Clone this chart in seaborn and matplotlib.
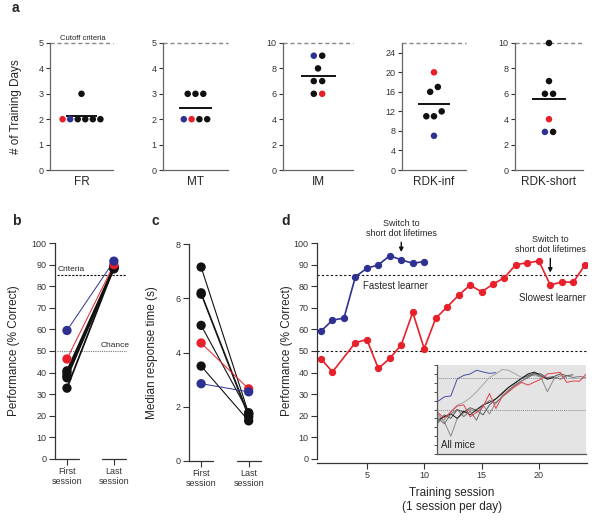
import numpy as np
import pandas as pd
import matplotlib.pyplot as plt
import seaborn as sns

# ---- panel a: training days needed per stage (7 mice) ----
stage_names = ['FR', 'MT', 'IM', 'RDK-inf', 'RDK-short']
stage_top = [5, 5, 10, 26, 10]
stage_ticks = [[0, 1, 2, 3, 4, 5], [0, 1, 2, 3, 4, 5], [0, 2, 4, 6, 8, 10],
               [0, 4, 8, 12, 16, 20, 24], [0, 2, 4, 6, 8, 10]]
fr_days = [2, 2, 2, 2, 2, 2, 3]
fr_mouse = ['slowest', 'fastest', 'other', 'other', 'other', 'other', 'other']
mt_days = [2, 2, 2, 2, 3, 3, 3]
mt_mouse = ['fastest', 'slowest', 'other', 'other', 'other', 'other', 'other']
im_days = [9, 9, 8, 7, 7, 6, 6]
im_mouse = ['fastest', 'other', 'other', 'other', 'other', 'other', 'slowest']
rdkinf_days = [20, 16, 17, 11, 11, 12, 7]
rdkinf_mouse = ['slowest', 'other', 'other', 'other', 'other', 'other', 'fastest']
rdkshort_days = [10, 7, 6, 6, 4, 3, 3]
rdkshort_mouse = ['other', 'other', 'other', 'other', 'slowest', 'fastest', 'other']

# ---- panel b/c: first vs last session ----
mouse_group = ['fastest', 'slowest', 'other', 'other', 'other', 'other', 'other']
perf_first = [59.5, 46.3, 40.8, 39.8, 38.5, 37.6, 32.8]
perf_last = [91.6, 90.0, 88.8, 88.3, 88.0, 89.2, 88.6]
rt_first = [2.85, 4.35, 7.15, 6.2, 6.15, 5.0, 3.5]
rt_last = [2.55, 2.66, 1.75, 1.7, 1.62, 1.78, 1.48]
session_labels = ['First\nsession', 'Last\nsession']

# ---- panel d: learning curves ----
fast_session = [1, 2, 3, 4, 5, 6, 7, 8, 9, 10]
fast_perf = [59.2, 64.3, 65.2, 84.4, 88.3, 89.9, 94.1, 92.2, 90.6, 91.4]
slow_session = [1, 2, 4, 5, 6, 7, 8, 9, 10, 11, 12, 13, 14, 15, 16, 17, 18, 19, 20, 21, 22, 23, 24]
slow_perf = [46.4, 40.3, 53.9, 55.3, 41.9, 46.6, 52.8, 67.9, 51.1, 65.1, 70.4, 75.8,
             80.5, 77.4, 80.9, 84.0, 90.0, 90.8, 91.7, 80.5, 82.0, 81.8, 89.7]
# other mice (inset only)
other_perf = [
    [42, 38, 48, 55, 58, 63, 70, 78, 86, 90, 95, 94, 90, 86, 89, 88, 87],
    [45, 36, 20, 40, 46, 50, 47, 55, 45, 58, 64, 70, 77, 82, 87, 90, 86, 70, 84, 88, 86],
    [35, 44, 40, 50, 47, 52, 49, 44, 55, 62, 69, 75, 80, 85, 88, 91, 90, 85, 87, 90, 88, 89],
    [38, 42, 45, 40, 48, 44, 50, 55, 58, 62, 68, 75, 80, 85, 90, 92, 88, 84, 86],
    [40, 34, 45, 50, 42, 48, 38, 55, 60, 57, 65, 72, 78, 82, 86, 90, 88, 86, 87, 84, 88, 86, 87, 86],
]
other_colors = ['#a6a6a6', '#8a8a8a', '#5a5a5a', '#1a1a1a', '#707070']

pal = {'fastest': '#2e3192', 'slowest': '#e8202a', 'other': '#111111'}
spine_col = '#333333'

sns.set_theme(style='ticks')
plt.rcParams['font.family'] = ['Liberation Sans', 'DejaVu Sans']
plt.rcParams['axes.edgecolor'] = spine_col
plt.rcParams['xtick.color'] = spine_col
plt.rcParams['ytick.color'] = spine_col
plt.rcParams['axes.linewidth'] = 0.9

fig = plt.figure(figsize=(6, 5.21), dpi=100)


def spread(values, binsize, step=0.12):
    bins = np.floor(np.array(values) / binsize)
    x = np.zeros(len(values))
    for b in np.unique(bins):
        idx = np.where(bins == b)[0]
        x[idx] = (np.arange(len(idx)) - (len(idx) - 1) / 2) * step
    return x


# ---------------- panel a ----------------
stage_days = [fr_days, mt_days, im_days, rdkinf_days, rdkshort_days]
stage_mice = [fr_mouse, mt_mouse, im_mouse, rdkinf_mouse, rdkshort_mouse]
a_left = [50, 163, 283, 402, 515]
a_right = [113, 228, 353, 466, 583]
for i, name in enumerate(stage_names):
    ax = fig.add_axes([a_left[i] / 600, 1 - 170 / 521, (a_right[i] - a_left[i]) / 600, 127 / 521])
    df = pd.DataFrame({'days': stage_days[i], 'mouse': stage_mice[i]})
    df['x'] = spread(df['days'], stage_top[i] / 12)
    sns.scatterplot(data=df, x='x', y='days', hue='mouse', palette=pal, s=22,
                    edgecolor='none', legend=False, ax=ax, zorder=3, clip_on=False)
    ax.hlines(df['days'].mean(), -0.25, 0.25, color='#111111', lw=1.4, zorder=2)
    ax.axhline(stage_top[i], color='#888888', lw=1, dashes=(3, 2), clip_on=False)
    ax.set_xlim(-0.5, 0.5)
    ax.set_ylim(0, stage_top[i])
    ax.set_yticks(stage_ticks[i])
    ax.set_xticks([])
    ax.tick_params(axis='y', labelsize=6.5, length=3, width=0.8, pad=1.5)
    ax.set_xlabel(name, fontsize=8.5, labelpad=4)
    ax.set_ylabel('')
    for s in ['top', 'right']:
        ax.spines[s].set_visible(False)
    for s in ['left', 'bottom']:
        ax.spines[s].set_color('#666666')
    if i == 0:
        ax.set_ylabel('# of Training Days', fontsize=8.5)
        ax.yaxis.set_label_coords(-0.44, 0.5)
        ax.text(0.02, 5.05, 'Cutoff criteria', ha='center', va='bottom', fontsize=5.5,
                color='#222222', clip_on=False)


def first_last_panel(ax, first, last, other_lw):
    rows = []
    for k in range(len(mouse_group)):
        rows.append({'id': k, 'group': mouse_group[k], 'pos': 0, 'val': first[k]})
        rows.append({'id': k, 'group': mouse_group[k], 'pos': 1, 'val': last[k]})
    df = pd.DataFrame(rows)
    order = {'other': 0, 'slowest': 1, 'fastest': 2}
    df = df.sort_values(by='group', key=lambda s: s.map(order), kind='stable')
    sns.lineplot(data=df, x='pos', y='val', units='id', estimator=None, hue='group',
                 hue_order=['other', 'slowest', 'fastest'], palette=pal, size='group',
                 sizes={'other': other_lw, 'slowest': 0.7, 'fastest': 0.7}, legend=False, ax=ax)
    sns.scatterplot(data=df, x='pos', y='val', hue='group', palette=pal, s=45,
                    edgecolor='none', legend=False, ax=ax, zorder=4)
    ax.set_xlim(-0.255, 1.28)
    ax.set_xticks([0, 1])
    ax.set_xticklabels(session_labels, fontsize=6.5, linespacing=1.1)
    ax.tick_params(axis='both', labelsize=6.5, length=4, width=0.8, pad=2)
    ax.spines['bottom'].set_visible(False)
    for s in ['top', 'right']:
        ax.spines[s].set_visible(False)
    for c in [0, 1]:
        ax.plot([c - 0.255, c + 0.255], [0, 0], transform=ax.get_xaxis_transform(),
                color=spine_col, lw=0.9, clip_on=False)
    ax.set_xlabel('')


# ---------------- panel b ----------------
axb = fig.add_axes([55 / 600, 1 - 459 / 521, 72 / 600, 216 / 521])
first_last_panel(axb, perf_first, perf_last, 1.3)
axb.set_ylim(0, 100)
axb.set_yticks(range(0, 101, 10))
axb.axhline(85, xmin=0.03, xmax=1, color='#111111', lw=0.8, dashes=(2, 1.3), zorder=1)
axb.axhline(50, xmin=0.03, xmax=1, color='#777777', lw=0.8, dashes=(1, 1), zorder=1)
axb.text(-0.2, 86, 'Criteria', fontsize=6, ha='left', va='bottom')
axb.text(1.33, 51, 'Chance', fontsize=6, ha='right', va='bottom', clip_on=False)
axb.set_ylabel('Performance (% Correct)', fontsize=8.5)
axb.yaxis.set_label_coords(-0.48, 0.5)

# ---------------- panel c ----------------
axc = fig.add_axes([189 / 600, 1 - 461 / 521, 73 / 600, 217 / 521])
first_last_panel(axc, rt_first, rt_last, 0.8)
axc.set_ylim(0, 8)
axc.set_yticks([0, 2, 4, 6, 8])
axc.set_ylabel('Median response time (s)', fontsize=8.5)
axc.yaxis.set_label_coords(-0.43, 0.5)

# ---------------- panel d ----------------
axd = fig.add_axes([317 / 600, 1 - 459 / 521, 270 / 600, 216 / 521])
axd.axhline(85, color='#111111', lw=0.8, dashes=(2, 2), zorder=1)
axd.axhline(50, color='#111111', lw=0.8, dashes=(2, 2), zorder=1)
sns.lineplot(x=fast_session, y=fast_perf, color=pal['fastest'], marker='o', markersize=4.5,
             markeredgecolor=pal['fastest'], lw=1.2, estimator=None, ax=axd)
sns.lineplot(x=slow_session, y=slow_perf, color=pal['slowest'], marker='o', markersize=4.5,
             markeredgecolor=pal['slowest'], lw=1.2, estimator=None, ax=axd)
axd.set_xlim(0.65, 24.2)
axd.set_ylim(0, 100)
axd.set_yticks(range(0, 101, 10))
axd.set_xticks([5, 10, 15, 20])
axd.tick_params(axis='both', labelsize=6.5, length=4, width=0.8, pad=2)
axd.spines['bottom'].set_position(('outward', 3))
for s in ['top', 'right']:
    axd.spines[s].set_visible(False)
axd.set_xlabel('Training session\n(1 session per day)', fontsize=8.5, labelpad=5)
axd.set_ylabel('Performance (% Correct)', fontsize=8.5)
axd.yaxis.set_label_coords(-0.09, 0.5)
arrow = dict(arrowstyle='-|>', color='#111111', lw=1, mutation_scale=6, shrinkA=1, shrinkB=0)
axd.annotate('Switch to\nshort dot lifetimes', xy=(8, 95.8), xytext=(8, 102.5),
             ha='center', va='bottom', fontsize=6.5, linespacing=1.15,
             arrowprops=arrow, annotation_clip=False)
axd.annotate('Switch to\nshort dot lifetimes', xy=(21, 86.3), xytext=(21, 95),
             ha='center', va='bottom', fontsize=6.5, linespacing=1.15,
             arrowprops=arrow, annotation_clip=False)
axd.text(4.7, 80.3, 'Fastest learner', fontsize=7, ha='left', va='center')
axd.text(24.1, 74.5, 'Slowest learner', fontsize=7, ha='right', va='center')

# inset: all mice
axi = fig.add_axes([437 / 600, 1 - 454 / 521, 149 / 600, 89 / 521])
axi.set_facecolor('#e4e4e4')
axi.axhline(85, color='#888888', lw=0.7, dashes=(1, 1))
axi.axhline(50, color='#888888', lw=0.7, dashes=(1, 1))
for perf, col in zip(other_perf, other_colors):
    sns.lineplot(x=np.arange(1, len(perf) + 1), y=perf, color=col, lw=0.7,
                 estimator=None, ax=axi)
sns.lineplot(x=slow_session, y=slow_perf, color='#e0404a', lw=0.7, estimator=None, ax=axi)
sns.lineplot(x=fast_session, y=fast_perf, color='#4a4ea0', lw=0.7, estimator=None, ax=axi)
axi.set_xlim(0.85, 24.0)
axi.set_ylim(0, 100)
axi.set_yticks(range(0, 101, 10))
axi.set_yticklabels([])
axi.set_xticks([])
axi.tick_params(axis='y', length=2, width=0.6)
for s in ['top', 'right']:
    axi.spines[s].set_visible(False)
axi.spines['left'].set_color('#555555')
axi.spines['bottom'].set_color('#555555')
axi.text(0.03, 0.04, 'All mice', transform=axi.transAxes, fontsize=7, ha='left', va='bottom')

# panel letters
for letter, x, y in [('a', 12, 8), ('b', 12, 221), ('c', 152, 221), ('d', 281, 221)]:
    fig.text(x / 600, 1 - y / 521, letter, fontsize=10, fontweight='bold', ha='left', va='center')

fig.savefig('out.png', dpi=100)
